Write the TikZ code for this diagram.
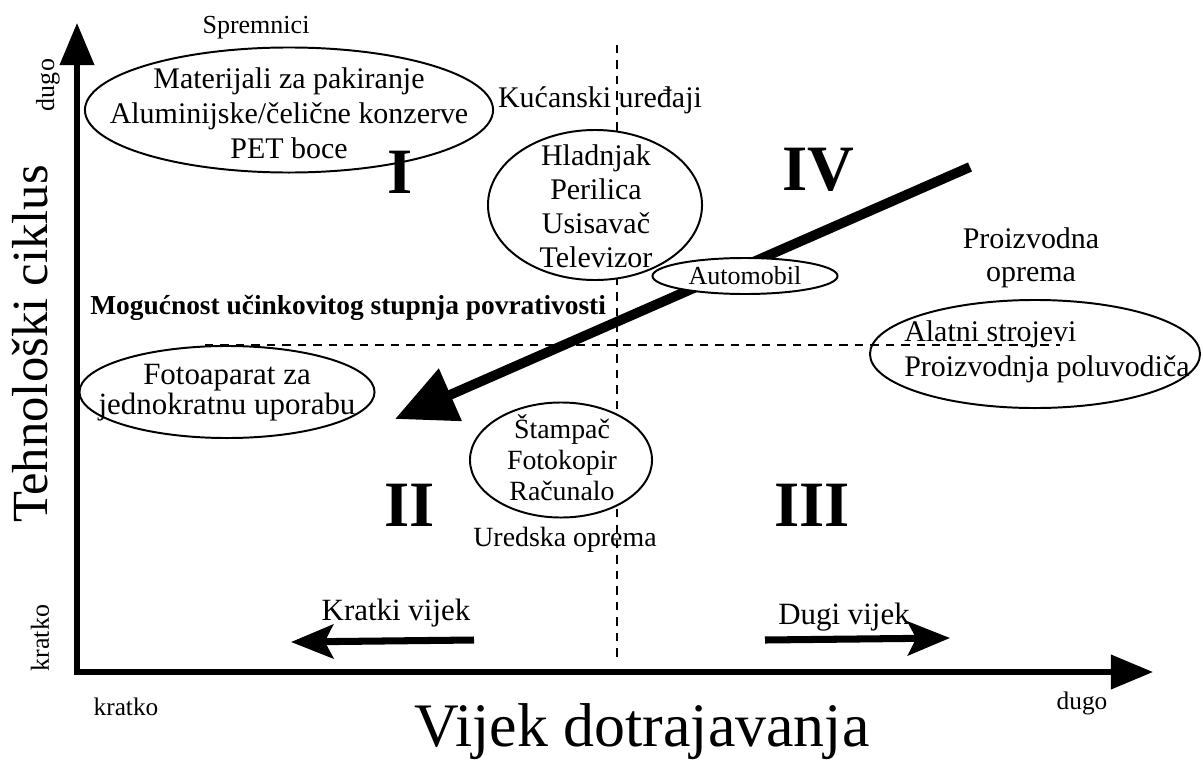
\documentclass[tikz,border=0pt]{standalone}
\usepackage{fontspec}
\setmainfont{Liberation Serif}
\usetikzlibrary{shapes.geometric,arrows.meta}

\begin{document}
\begin{tikzpicture}[x=0.025cm, y=-0.025cm]

\tikzstyle{txt}=[inner sep=0pt, font=\fontsize{21.3}{24.9}\selectfont, align=center]
\tikzstyle{small}=[inner sep=0pt, font=\fontsize{18.5}{21}\selectfont]
\tikzstyle{roman}=[inner sep=0pt, font=\fontsize{46}{50}\selectfont\bfseries]
\tikzstyle{oval}=[ellipse, draw, line width=1.4pt, inner sep=0pt]
\tikzstyle{axis}=[-{Triangle[length=30pt,width=24pt]}, line width=3.6pt, shorten <=-1.8pt]
\tikzstyle{divider}=[line width=1.3pt, dash pattern=on 6pt off 5pt]
\tikzstyle{bigarrow}=[-{Triangle[length=43pt,width=39pt]}, line width=7pt]
\tikzstyle{lifearrow}=[-{Stealth[length=30pt,width=24pt,inset=6pt]}, line width=5pt]

\useasboundingbox (0,0) rectangle (1203,763);

\coordinate (O) at (77,672);
\coordinate (Y) at (77,23);
\coordinate (X) at (1153,672);

\draw [axis] (O) -- (Y);
\draw [axis] (O) -- (X);

\node (Yd) [small, rotate=90] at (48,85) {dugo};
\node (Yk) [small, rotate=90] at (40,638) {kratko};
\node (Ylab) [inner sep=0pt, rotate=90, font=\fontsize{36}{40}\selectfont] at (30,344) {Tehnološki ciklus};

\node (Xk) [inner sep=0pt, font=\fontsize{18}{20}\selectfont] at (126,707) {kratko};
\node (Xd) [inner sep=0pt, font=\fontsize{18}{20}\selectfont] at (1082,703) {dugo};
\node (Xlab) [inner sep=0pt, anchor=base, font=\fontsize{44}{48}\selectfont] at (642,746) {Vijek dotrajavanja};

\coordinate (V1) at (617,45);
\coordinate (V2) at (617,660);
\coordinate (H1) at (205,345);
\coordinate (H2) at (1060,345);
\draw [divider] (V1) -- (V2);
\draw [divider] (H1) -- (H2);

\node (R1) [roman] at (400,172) {I};
\node (R2) [roman] at (410,505) {II};
\node (R3) [roman] at (812,505) {III};
\node (R4) [roman] at (818,170) {IV};

\node (sprem) [small] at (256,28) {Spremnici};
\node (pak) [oval, minimum width=10.2cm, minimum height=3.125cm] at (289,110) {};
\node (paktxt) [txt] at (289,113) {Materijali za pakiranje\\Aluminijske/čelične konzerve\\PET boce};

\node (kucan) [txt] at (600,100) {Kućanski uređaji};
\node (kuc) [oval, fill=white, minimum width=5.35cm, minimum height=3.75cm] at (595,205) {};
\node (kuctxt) [txt, font=\fontsize{21.3}{24.2}\selectfont] at (596,206) {Hladnjak\\Perilica\\Usisavač\\Televizor};

\coordinate (A1) at (970,167);
\coordinate (A2) at (395,419);
\draw [bigarrow] (A1) -- (A2);

\node (auto) [oval, fill=white, minimum width=4.625cm, minimum height=0.9cm] at (745,276) {};
\node (autotxt) [small] at (745,276) {Automobil};

\node (mog) [inner sep=0pt, anchor=west, font=\fontsize{19.5}{22}\selectfont\bfseries] at (90,308) {Mogućnost učinkovitog stupnja povrativosti};

\node (foto) [oval, minimum width=7.375cm, minimum height=2.3cm] at (227,392) {};
\node (fototxt) [txt, font=\fontsize{22}{21.3}\selectfont] at (227,393) {Fotoaparat za\\jednokratnu uporabu};

\node (proiz) [txt, font=\fontsize{21.3}{23.5}\selectfont] at (1031,258) {Proizvodna\\oprema};
\node (alat) [oval, minimum width=8.25cm, minimum height=2.7cm] at (1035,354) {};
\node (alattxt) [txt, align=left, anchor=west] at (904,352) {Alatni strojevi\\Proizvodnja poluvodiča};

\node (ured) [oval, fill=white, minimum width=4.55cm, minimum height=2.875cm] at (561,460) {};
\node (uredtxt) [txt, font=\fontsize{19.8}{22}\selectfont] at (562,458) {Štampač\\Fotokopir\\Računalo};
\node (uredlab) [inner sep=0pt, font=\fontsize{19.8}{22}\selectfont] at (565,540) {Uredska oprema};

\node (kratki) [inner sep=0pt, font=\fontsize{22}{24}\selectfont] at (396,613) {Kratki vijek};
\node (dugi) [inner sep=0pt, font=\fontsize{22}{24}\selectfont] at (844,617) {Dugi vijek};
\coordinate (K1) at (474,640);
\coordinate (K2) at (291,642);
\coordinate (D1) at (765,640);
\coordinate (D2) at (950,638);
\draw [lifearrow] (K1) -- (K2);
\draw [lifearrow] (D1) -- (D2);

\end{tikzpicture}
\end{document}
